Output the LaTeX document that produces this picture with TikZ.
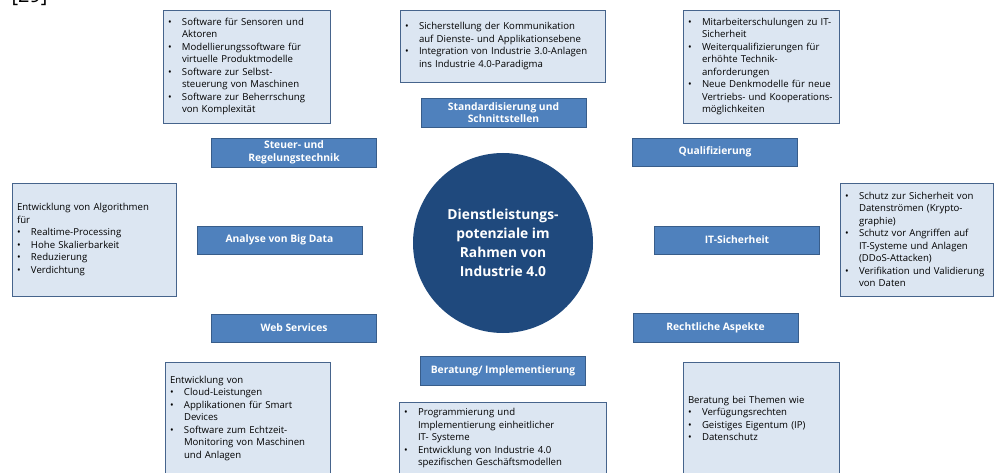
\documentclass[tikz,border=0pt]{standalone}
\usepackage{fontspec}
\setmainfont{Open Sans}

\definecolor{topicblue}{HTML}{4F81BD}
\definecolor{topicline}{HTML}{385D8A}
\definecolor{listfill}{HTML}{DCE6F2}
\definecolor{listline}{HTML}{46648C}
\definecolor{hubblue}{HTML}{1F497D}

\newcommand{\itm}{\makebox[14pt][l]{\textbullet}}
\newcommand{\ctd}{\hspace*{14pt}}

\begin{document}
\begin{tikzpicture}[x=1pt, y=-1pt,
    topic/.style={draw=topicline, fill=topicblue, text=white, align=center,
        font=\fontsize{10.3}{12.5}\selectfont\bfseries,
        minimum width=165pt, minimum height=28.5pt, inner sep=0pt},
    listbox/.style={draw=listline, fill=listfill, align=left,
        font=\fontsize{9.6}{12.5}\selectfont, inner xsep=5pt, inner ysep=2pt},
    hub/.style={circle, fill=hubblue, text=white, align=center,
        font=\fontsize{13.8}{19}\selectfont\bfseries,
        minimum size=180pt, inner sep=0pt}]
    \useasboundingbox (0,0) rectangle (995,473);

    % Source mark (cut at the top)
    \node[anchor=base west, font=\fontsize{20}{24}\selectfont] (cite) at (8,3) {[29]};

    % CENTRE
    \node[hub] (hub) at (503,243) {Dienstleistungs-\\potenziale im\\Rahmen von\\Industrie 4.0};

    % TOP ROW
    \begin{scope}
        % Steuer- und Regelungstechnik
        \node[listbox, text width=157pt, minimum height=113pt] (ctrllist) at (246.5,66.5)
            {\itm Software für Sensoren und\\ \ctd Aktoren\\
             \itm Modellierungssoftware für\\ \ctd virtuelle Produktmodelle\\
             \itm Software zur Selbst-\\ \ctd steuerung von Maschinen\\
             \itm Software zur Beherrschung\\ \ctd von Komplexität};
        \node[topic] (ctrl) at (294,152.5) {Steuer- und\\Regelungstechnik};

        % Standardisierung
        \node[listbox, text width=195pt, minimum height=72pt] (stdlist) at (502.5,46)
            {\itm Sicherstellung der Kommunikation\\ \ctd auf Dienste- und Applikationsebene\\
             \itm Integration von Industrie 3.0-Anlagen\\ \ctd ins Industrie 4.0-Paradigma};
        \node[topic] (std) at (503.5,112.5) {Standardisierung und\\Schnittstellen};

        % Qualifizierung
        \node[listbox, text width=146pt, minimum height=113pt] (qualilist) at (761,66.5)
            {\itm Mitarbeiterschulungen zu IT-\\ \ctd Sicherheit\\
             \itm Weiterqualifizierungen für\\ \ctd erhöhte Technik-\\ \ctd anforderungen\\
             \itm Neue Denkmodelle für neue\\ \ctd Vertriebs- und Kooperations-\\ \ctd möglichkeiten};
        \node[topic] (quali) at (715,152) {Qualifizierung};
    \end{scope}

    % MIDDLE ROW
    \begin{scope}
        % Analyse von Big Data
        \node[listbox, text width=154pt, minimum height=113pt] (datalist) at (94,239.5)
            {Entwicklung von Algorithmen\\für\\
             \itm Realtime-Processing\\
             \itm Hohe Skalierbarkeit\\
             \itm Reduzierung\\
             \itm Verdichtung};
        \node[topic] (data) at (279.5,240) {Analyse von Big Data};

        % IT-Sicherheit
        \node[listbox, text width=143pt, minimum height=113pt] (itlist) at (916.5,239.5)
            {\itm Schutz zur Sicherheit von\\ \ctd Datenströmen (Krypto-\\ \ctd graphie)\\
             \itm Schutz vor Angriffen auf\\ \ctd IT-Systeme und Anlagen\\ \ctd (DDoS-Attacken)\\
             \itm Verifikation und Validierung\\ \ctd von Daten};
        \node[topic] (it) at (737,240) {IT-Sicherheit};
    \end{scope}

    % BOTTOM ROW
    \begin{scope}
        % Web Services
        \node[topic] (web) at (294,328) {Web Services};
        \node[listbox, text width=155pt, minimum height=113pt] (weblist) at (247.5,418.5)
            {Entwicklung von\\
             \itm Cloud-Leistungen\\
             \itm Applikationen für Smart\\ \ctd Devices\\
             \itm Software zum Echtzeit-\\ \ctd Monitoring von Maschinen\\ \ctd und Anlagen};

        % Beratung
        \node[topic] (advice) at (503,370.5) {Beratung/ Implementierung};
        \node[listbox, text width=197pt, minimum height=73pt] (advicelist) at (502.5,438.5)
            {\itm Programmierung und\\ \ctd Implementierung einheitlicher\\ \ctd IT- Systeme\\
             \itm Entwicklung von Industrie 4.0\\ \ctd spezifischen Geschäftsmodellen};

        % Rechtliche Aspekte
        \node[topic] (law) at (715.5,327.5) {Rechtliche Aspekte};
        \node[listbox, text width=146pt, minimum height=113pt] (lawlist) at (761,418.5)
            {Beratung bei Themen wie\\
             \itm Verfügungsrechten\\
             \itm Geistiges Eigentum (IP)\\
             \itm Datenschutz};
    \end{scope}
\end{tikzpicture}
\end{document}
